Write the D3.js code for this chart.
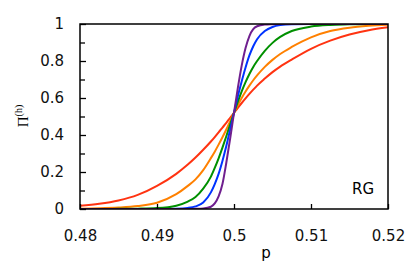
<!DOCTYPE html>
<html>
<head>
<meta charset="utf-8">
<script src="https://cdn.jsdelivr.net/npm/d3@7"></script>
<style>
  body { margin: 0; background: #fff; }
  text { font-family: "DejaVu Sans", Verdana, sans-serif; }
</style>
</head>
<body>
<svg id="vis-pane" width="415" height="268"></svg>
<script>

// p grid, denser near the crossing
var pValues = [0.48, 0.4825, 0.485, 0.4875, 0.49, 0.4925, 0.494, 0.495, 0.496, 0.497, 0.4975,
    0.498, 0.4985, 0.499, 0.4995, 0.5, 0.5005, 0.501, 0.5015, 0.502, 0.5025, 0.503, 0.504,
    0.505, 0.506, 0.5075, 0.51, 0.5125, 0.515, 0.5175, 0.52];

var redVals = [0.017, 0.028, 0.046, 0.076, 0.125, 0.19, 0.24, 0.278, 0.32, 0.365, 0.389,
    0.414, 0.44, 0.466, 0.493, 0.52, 0.547, 0.573, 0.598, 0.622, 0.645, 0.667, 0.705,
    0.74, 0.77, 0.808, 0.866, 0.91, 0.943, 0.966, 0.982];
var orangeVals = [0.002, 0.004, 0.008, 0.016, 0.034, 0.08, 0.125, 0.16, 0.21, 0.275, 0.31,
    0.348, 0.388, 0.43, 0.475, 0.52, 0.562, 0.6, 0.635, 0.667, 0.696, 0.722, 0.768,
    0.806, 0.838, 0.876, 0.928, 0.962, 0.98, 0.99, 0.996];
var greenVals = [0, 0, 0.001, 0.002, 0.005, 0.018, 0.04, 0.065, 0.11, 0.175, 0.222,
    0.274, 0.332, 0.393, 0.457, 0.52, 0.58, 0.636, 0.686, 0.73, 0.768, 0.8, 0.855,
    0.898, 0.93, 0.962, 0.986, 0.995, 0.998, 1, 1];
var blueVals = [0, 0, 0, 0, 0.0005, 0.002, 0.006, 0.014, 0.035, 0.09, 0.135,
    0.19, 0.26, 0.34, 0.43, 0.52, 0.61, 0.69, 0.765, 0.83, 0.88, 0.918, 0.962,
    0.984, 0.994, 0.999, 1, 1, 1, 1, 1];
var purpleVals = [0, 0, 0, 0, 0, 0, 0, 0.001, 0.003, 0.012, 0.03,
    0.068, 0.135, 0.25, 0.38, 0.52, 0.655, 0.775, 0.87, 0.935, 0.972, 0.988, 0.997,
    0.999, 1, 1, 1, 1, 1, 1, 1];

var seriesNames = ["red", "orange", "green", "blue", "purple"];
var seriesColors = ["#ff3311", "#ff8000", "#009000", "#0033ff", "#6f1f8f"];
var seriesVals = [redVals, orangeVals, greenVals, blueVals, purpleVals];

var xTicks = [0.48, 0.49, 0.5, 0.51, 0.52];
var yTicks = [0, 0.2, 0.4, 0.6, 0.8, 1];
var yMinorTicks = [0.1, 0.3, 0.5, 0.7, 0.9];

var margin = {left: 80, top: 24, right: 27, bottom: 59};
var width = 415 - margin.left - margin.right;
var height = 268 - margin.top - margin.bottom;

var x = d3.scaleLinear().domain([0.48, 0.52]).range([0, width]);
var y = d3.scaleLinear().domain([0, 1]).range([height, 0]);

var svg = d3.select("#vis-pane");
var g = svg.append("g")
    .attr("transform", "translate(" + margin.left + "," + margin.top + ")");

g.append("clipPath").attr("id", "clip")
    .append("rect").attr("width", width).attr("height", height);

var line = d3.line()
    .x(function(d) { return x(d[0]); })
    .y(function(d) { return y(d[1]); })
    .curve(d3.curveMonotoneX);

var series = seriesNames.map(function(name, i) {
    return {
        name: name,
        color: seriesColors[i],
        points: pValues.map(function(p, j) { return [p, seriesVals[i][j]]; })
    };
});

g.append("g").attr("clip-path", "url(#clip)")
    .selectAll("path")
    .data(series)
    .enter().append("path")
    .attr("fill", "none")
    .attr("stroke", function(d) { return d.color; })
    .attr("stroke-width", 2)
    .attr("d", function(d) { return line(d.points); });

// axes, ticks pointing inward
var xAxis = g.append("g")
    .attr("transform", "translate(0," + height + ")")
    .call(d3.axisBottom(x).tickValues(xTicks).tickSize(-5).tickPadding(21)
        .tickFormat(function(d) { return d3.format("")(+d.toFixed(2)); }));

var yAxis = g.append("g")
    .call(d3.axisLeft(y).tickValues(yTicks).tickSize(-6).tickPadding(16)
        .tickFormat(function(d) { return d3.format("")(+d.toFixed(1)); }));

var yMinor = g.append("g")
    .call(d3.axisLeft(y).tickValues(yMinorTicks).tickSize(-5).tickFormat(""));

[xAxis, yAxis, yMinor].forEach(function(a) {
    a.select(".domain").remove();
    a.selectAll("line").attr("stroke", "#000").attr("stroke-width", 1.3);
    a.selectAll("text").attr("font-size", 15).attr("fill", "#111")
        .style("font-family", "'DejaVu Sans', Verdana, sans-serif");
});

g.append("rect")
    .attr("width", width).attr("height", height)
    .attr("fill", "none").attr("stroke", "#000").attr("stroke-width", 1.5);

g.append("text")
    .attr("x", 294).attr("y", 170)
    .attr("text-anchor", "end")
    .attr("font-size", 15)
    .text("RG");

svg.append("text")
    .attr("x", 266).attr("y", 258)
    .attr("text-anchor", "middle")
    .attr("font-size", 15)
    .text("p");

var yLabel = svg.append("text")
    .attr("transform", "translate(28,116) rotate(-90)")
    .attr("text-anchor", "middle")
    .style("font-family", "'Liberation Serif', 'Times New Roman', serif");
yLabel.append("tspan").attr("font-size", 15).text("\u03A0");
yLabel.append("tspan").attr("font-size", 10).attr("dy", -6).text("(h)");

</script>
</body>
</html>
